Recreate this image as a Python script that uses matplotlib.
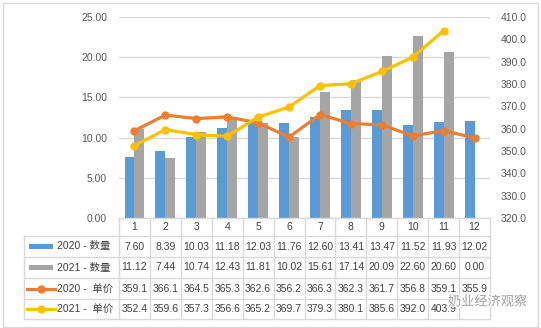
import matplotlib
matplotlib.use("Agg")
import matplotlib.pyplot as plt
import numpy as np
from matplotlib.lines import Line2D
from matplotlib.patches import Rectangle
import matplotlib.patheffects as pe

plt.rcParams['font.family'] = ['Liberation Sans', 'Noto Sans CJK SC']

# ---- data ----
months = ['1', '2', '3', '4', '5', '6', '7', '8', '9', '10', '11', '12']
qty_2020 = [7.60, 8.39, 10.03, 11.18, 12.03, 11.76, 12.60, 13.41, 13.47, 11.52, 11.93, 12.02]
qty_2021 = [11.12, 7.44, 10.74, 12.43, 11.81, 10.02, 15.61, 17.14, 20.09, 22.60, 20.60, 0.00]
price_2020 = [359.1, 366.1, 364.5, 365.3, 362.6, 356.2, 366.3, 362.3, 361.7, 356.8, 359.1, 355.9]
price_2021 = [352.4, 359.6, 357.3, 356.6, 365.2, 369.7, 379.3, 380.1, 385.6, 392.0, 403.9, None]
series_names = ['2020 - 数量', '2021 - 数量', '2020 -  单价', '2021 -  单价']

BLUE, GRAY, ORANGE, YELLOW = '#5B9BD5', '#A5A5A5', '#ED7D31', '#FFC000'
GRID = '#D9D9D9'
TXT = '#595959'
TTXT = '#404040'

W, H = 541, 328
fig = plt.figure(figsize=(W / 100, H / 100), dpi=100)

def fx(px):
    return px / W

def fy(py):
    return 1 - py / H

L, R, T, B = 119, 490, 17, 218
ax = fig.add_axes([fx(L), fy(B), fx(R - L), (B - T) / H])
ax2 = ax.twinx()

x = np.arange(1, 13)
bw = 0.32
ax.bar(x - bw / 2, qty_2020, width=bw, color=BLUE, zorder=2)
ax.bar(x + bw / 2, qty_2021, width=bw, color=GRAY, zorder=2)

p21 = np.array([np.nan if v is None else v for v in price_2021], dtype=float)
ax2.plot(x, price_2020, color=ORANGE, lw=2.3, marker='o', ms=5, zorder=3)
ax2.plot(x, p21, color=YELLOW, lw=2.3, marker='o', ms=5, zorder=4)

ax.set_xlim(0.5, 12.5)
ax.set_ylim(0, 25)
ax.set_yticks(np.arange(0, 26, 5))
ax.set_yticklabels([f'{v:.2f}' for v in np.arange(0, 26, 5)])
ax2.set_ylim(320, 410)
ax2.set_yticks(np.arange(320, 411, 10))
ax2.set_yticklabels([f'{v:.1f}' for v in np.arange(320, 411, 10)])
ax.set_xticks([])
ax.yaxis.grid(True, color=GRID, lw=1)
ax.set_axisbelow(True)
for a in (ax, ax2):
    for s in a.spines.values():
        s.set_visible(False)
    a.tick_params(length=0, labelsize=7.5, labelcolor=TXT)
ax.tick_params(axis='y', pad=8.6)
ax2.tick_params(axis='y', pad=7.7)

# ---- chart border ----
fig.add_artist(Rectangle((fx(3), fy(327)), fx(535), 324 / H, fill=False,
                         edgecolor=GRID, lw=1))

# ---- data table ----
col_edges = L + np.arange(13) * (R - L) / 12
row_edges = [B, 236, 257, 278, 299, 319]
TL = 24
tl = dict(color=GRID, lw=1)
# horizontal lines
fig.add_artist(Line2D([fx(L), fx(R)], [fy(B), fy(B)], **tl))
for yy in row_edges[1:]:
    fig.add_artist(Line2D([fx(TL), fx(R)], [fy(yy), fy(yy)], **tl))
# vertical lines
for xx in col_edges:
    fig.add_artist(Line2D([fx(xx), fx(xx)], [fy(B), fy(row_edges[-1])], **tl))
fig.add_artist(Line2D([fx(TL), fx(TL)], [fy(236), fy(row_edges[-1])], **tl))

centers_x = (col_edges[:-1] + col_edges[1:]) / 2
for cx, m in zip(centers_x, months):
    fig.text(fx(cx), fy(227.5), m, ha='center', va='center', fontsize=7.5, color=TTXT)

rows = [
    ([f'{v:.2f}' for v in qty_2020], 'bar', BLUE),
    ([f'{v:.2f}' for v in qty_2021], 'bar', GRAY),
    ([f'{v:.1f}' for v in price_2020], 'line', ORANGE),
    (['' if v is None else f'{v:.1f}' for v in price_2021], 'line', YELLOW),
]
for i, (vals, kind, col) in enumerate(rows):
    cy = (row_edges[i + 1] + row_edges[i + 2]) / 2
    if kind == 'bar':
        fig.add_artist(Rectangle((fx(29), fy(cy + 2.5)), fx(24), 5 / H, color=col, lw=0))
    else:
        fig.add_artist(Line2D([fx(27), fx(55)], [fy(cy), fy(cy)], color=col, lw=2.3))
        fig.add_artist(Line2D([fx(41)], [fy(cy)], color=col, marker='o', ms=5))
    fig.text(fx(57), fy(cy), series_names[i], ha='left', va='center', fontsize=7.5, color=TTXT)
    for cx, s in zip(centers_x, vals):
        fig.text(fx(cx), fy(cy), s, ha='center', va='center', fontsize=7.5, color=TTXT)

# ---- watermark ----
fig.text(fx(448), fy(302), '奶业经济观察', ha='left', va='center', fontsize=9.5,
         color='#9A9A9A', alpha=0.9,
         path_effects=[pe.withStroke(linewidth=2, foreground='white')])

fig.savefig('out.png', dpi=100)
